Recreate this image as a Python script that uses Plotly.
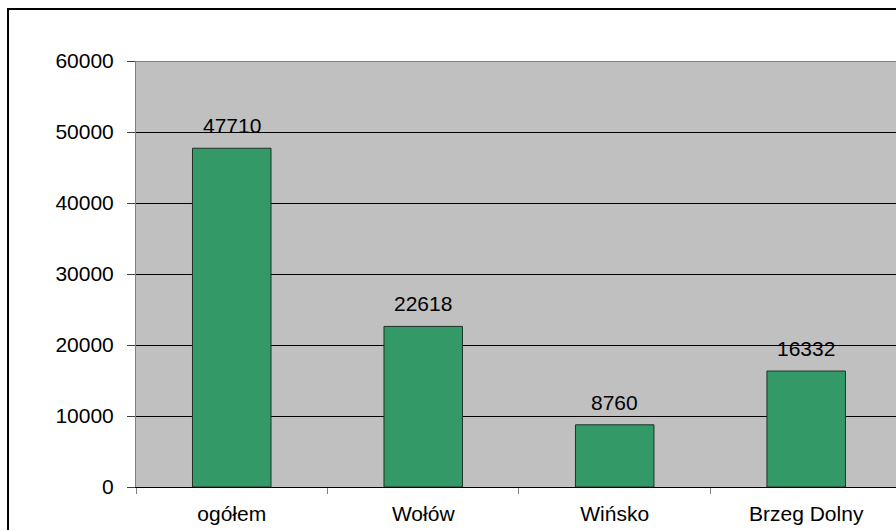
import plotly.graph_objects as go

categories = ["ogółem", "Wołów", "Wińsko", "Brzeg Dolny"]
values = [47710, 22618, 8760, 16332]
y_ticks = [0, 10000, 20000, 30000, 40000, 50000, 60000]

FONT = "Liberation Sans, Arial, sans-serif"
FS = 21

fig = go.Figure()
fig.add_trace(go.Bar(
    x=categories, y=values, width=0.41,
    marker=dict(color="#339966", line=dict(color="#1e3328", width=1)),
    hoverinfo="x+y",
))

for c, v in zip(categories, values):
    fig.add_annotation(x=c, y=v, text=str(v), showarrow=False,
                       yanchor="bottom", yshift=9,
                       font=dict(family=FONT, size=FS, color="black"))

# top plot-area border (gray) and outer chart frame
fig.add_shape(type="line", xref="paper", yref="y", x0=0, x1=1.05, y0=60000, y1=60000,
              line=dict(color="#808080", width=2), layer="above")
fig.add_shape(type="rect", xref="paper", yref="paper", x0=-0.1684, x1=1.1, y0=-0.3, y1=1.1221,
              line=dict(color="black", width=2), fillcolor="rgba(0,0,0,0)", layer="above")

fig.update_layout(
    width=896, height=530,
    margin=dict(l=136, r=0, t=61, b=43),
    paper_bgcolor="white", plot_bgcolor="#C0C0C0",
    showlegend=False,
    font=dict(family=FONT, size=FS, color="black"),
    xaxis=dict(
        type="category", range=[-0.5, 3.469],
        showline=True, linecolor="black", linewidth=1,
        ticks="outside", tickson="boundaries", ticklen=6, tickcolor="#808080",
        showgrid=False, ticklabelstandoff=8,
        tickfont=dict(family=FONT, size=FS, color="black"),
    ),
    yaxis=dict(
        range=[0, 60000], tickvals=y_ticks, ticktext=[str(t) for t in y_ticks],
        showline=True, linecolor="#808080", linewidth=1,
        ticks="outside", ticklen=8, tickcolor="#404040",
        showgrid=True, gridcolor="black", gridwidth=1,
        zeroline=False, ticklabelstandoff=9,
        tickfont=dict(family=FONT, size=FS, color="black"),
    ),
)

fig.write_html("out.html", config={"displayModeBar": False},
               post_script="document.body.style.margin='0';document.body.style.overflow='hidden';")
